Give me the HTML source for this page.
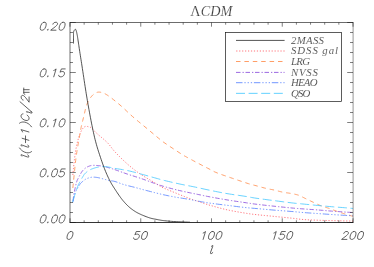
<!DOCTYPE html>
<html><head><meta charset="utf-8"><title>LCDM</title>
<style>html,body{margin:0;padding:0;background:#fff;width:374px;height:267px;overflow:hidden;font-family:"Liberation Sans",sans-serif}</style></head>
<body>
<svg width="374" height="267" viewBox="0 0 374 267" style="position:absolute;left:0;top:0;will-change:transform">
<title>LCDM: l(l+1)C_l/2pi versus l</title><desc>Line chart. x axis l from 0 to 200 (ticks 0, 50, 100, 150, 200); y axis l(l+1)C_l/2pi from 0.00 to 0.20 (ticks 0.00, 0.05, 0.10, 0.15, 0.20). Curves: 2MASS, SDSS gal, LRG, NVSS, HEAO, QSO.</desc>
<rect width="374" height="267" fill="#fff"/>
<clipPath id="c"><rect x="70" y="22.5" width="283" height="200"/></clipPath>
<g clip-path="url(#c)" fill="none" stroke-width="0.82" stroke-linejoin="round">
<path d="M72.83 175.00 L72.94 173.89 L73.09 172.40 L73.26 170.61 L73.45 168.64 L73.66 166.59 L73.86 164.56 L74.06 162.66 L74.25 161.00 L74.43 159.52 L74.60 158.11 L74.78 156.76 L74.95 155.47 L75.13 154.24 L75.31 153.05 L75.48 151.91 L75.66 150.80 L75.84 149.74 L76.01 148.74 L76.19 147.80 L76.37 146.89 L76.55 146.03 L76.72 145.20 L76.90 144.39 L77.08 143.60 L77.26 142.84 L77.44 142.12 L77.61 141.42 L77.79 140.76 L77.97 140.12 L78.15 139.50 L78.32 138.90 L78.50 138.30 L78.68 137.72 L78.85 137.15 L79.03 136.60 L79.20 136.07 L79.38 135.55 L79.55 135.05 L79.73 134.57 L79.90 134.10 L80.08 133.65 L80.25 133.21 L80.43 132.79 L80.60 132.38 L80.78 131.99 L80.95 131.61 L81.13 131.25 L81.30 130.90 L81.47 130.56 L81.65 130.24 L81.82 129.94 L82.00 129.64 L82.17 129.36 L82.35 129.10 L82.52 128.84 L82.70 128.60 L82.88 128.37 L83.06 128.15 L83.24 127.94 L83.42 127.75 L83.60 127.57 L83.79 127.40 L83.97 127.24 L84.15 127.10 L84.33 126.97 L84.51 126.85 L84.69 126.75 L84.87 126.66 L85.05 126.58 L85.23 126.51 L85.42 126.45 L85.60 126.40 L85.78 126.36 L85.97 126.34 L86.15 126.33 L86.33 126.33 L86.52 126.33 L86.71 126.35 L86.90 126.37 L87.10 126.40 L87.30 126.44 L87.50 126.48 L87.70 126.54 L87.91 126.60 L88.12 126.66 L88.34 126.74 L88.56 126.82 L88.80 126.90 L89.02 126.95 L89.21 126.96 L89.40 126.96 L89.60 126.97 L89.84 127.02 L90.14 127.15 L90.52 127.38 L91.00 127.75 L91.58 128.26 L92.24 128.87 L92.97 129.59 L93.76 130.38 L94.62 131.24 L95.53 132.14 L96.49 133.06 L97.50 134.00 L98.60 134.97 L99.81 136.00 L101.10 137.08 L102.44 138.19 L103.78 139.33 L105.09 140.48 L106.35 141.62 L107.50 142.75 L108.52 143.85 L109.43 144.93 L110.27 146.01 L111.08 147.10 L111.92 148.21 L112.82 149.37 L113.83 150.60 L115.00 151.90 L116.34 153.31 L117.81 154.83 L119.38 156.42 L121.02 158.05 L122.70 159.69 L124.40 161.30 L126.07 162.85 L127.70 164.30 L129.30 165.67 L130.90 167.00 L132.50 168.30 L134.10 169.55 L135.70 170.77 L137.30 171.95 L138.90 173.09 L140.50 174.20 L142.12 175.28 L143.77 176.31 L145.44 177.32 L147.10 178.28 L148.73 179.21 L150.30 180.11 L151.80 180.97 L153.20 181.80 L154.46 182.58 L155.58 183.30 L156.61 183.99 L157.60 184.64 L158.59 185.27 L159.62 185.90 L160.74 186.54 L162.00 187.20 L163.40 187.88 L164.90 188.56 L166.47 189.24 L168.10 189.92 L169.76 190.60 L171.43 191.27 L173.08 191.94 L174.70 192.60 L176.30 193.26 L177.90 193.91 L179.50 194.57 L181.10 195.21 L182.70 195.85 L184.30 196.48 L185.90 197.10 L187.50 197.70 L189.12 198.29 L190.77 198.88 L192.44 199.47 L194.10 200.04 L195.73 200.59 L197.30 201.12 L198.80 201.63 L200.20 202.10 L201.42 202.52 L202.46 202.89 L203.38 203.21 L204.27 203.53 L205.20 203.84 L206.24 204.18 L207.49 204.56 L209.00 205.00 L210.81 205.52 L212.85 206.10 L215.08 206.73 L217.43 207.38 L219.85 208.03 L222.28 208.66 L224.69 209.26 L227.00 209.80 L229.30 210.30 L231.66 210.77 L234.06 211.23 L236.44 211.66 L238.76 212.06 L240.99 212.44 L243.08 212.78 L245.00 213.10 L246.66 213.37 L248.08 213.59 L249.33 213.78 L250.50 213.94 L251.67 214.09 L252.92 214.25 L254.34 214.41 L256.00 214.60 L257.92 214.81 L260.01 215.03 L262.24 215.25 L264.57 215.48 L266.95 215.71 L269.34 215.94 L271.71 216.17 L274.00 216.40 L276.29 216.63 L278.64 216.86 L281.02 217.10 L283.38 217.33 L285.69 217.56 L287.91 217.79 L289.99 218.00 L291.90 218.20 L293.59 218.39 L295.08 218.57 L296.42 218.75 L297.68 218.92 L298.91 219.08 L300.17 219.23 L301.51 219.37 L303.00 219.50 L304.63 219.62 L306.33 219.72 L308.09 219.82 L309.90 219.91 L311.73 219.99 L313.57 220.06 L315.40 220.13 L317.20 220.20 L318.93 220.26 L320.60 220.32 L322.24 220.37 L323.89 220.41 L325.61 220.46 L327.42 220.50 L329.37 220.55 L331.50 220.60 L333.99 220.66 L336.87 220.73 L339.98 220.80 L343.14 220.88 L346.20 220.94 L348.97 221.01 L351.29 221.06 L353.00 221.10" stroke="#ff5a62" stroke-dasharray="1.2 1.75"/>
<path d="M72.83 188.00 L72.94 186.92 L73.09 185.47 L73.26 183.75 L73.45 181.84 L73.66 179.83 L73.86 177.79 L74.06 175.82 L74.25 174.00 L74.43 172.26 L74.60 170.51 L74.78 168.75 L74.95 167.00 L75.13 165.28 L75.31 163.62 L75.48 162.02 L75.66 160.50 L75.84 159.07 L76.01 157.71 L76.19 156.41 L76.37 155.17 L76.55 153.96 L76.72 152.79 L76.90 151.64 L77.08 150.50 L77.26 149.39 L77.44 148.32 L77.61 147.29 L77.79 146.28 L77.97 145.29 L78.15 144.30 L78.32 143.31 L78.50 142.30 L78.68 141.28 L78.85 140.26 L79.03 139.23 L79.20 138.21 L79.38 137.20 L79.55 136.19 L79.73 135.19 L79.90 134.20 L80.07 133.24 L80.22 132.33 L80.38 131.43 L80.53 130.54 L80.69 129.63 L80.87 128.68 L81.07 127.68 L81.30 126.60 L81.56 125.45 L81.84 124.23 L82.15 122.96 L82.47 121.65 L82.80 120.32 L83.14 118.97 L83.47 117.63 L83.80 116.30 L84.12 114.95 L84.44 113.55 L84.76 112.12 L85.09 110.70 L85.42 109.30 L85.76 107.95 L86.12 106.68 L86.50 105.50 L86.89 104.42 L87.29 103.42 L87.69 102.48 L88.11 101.59 L88.55 100.75 L89.01 99.95 L89.49 99.17 L90.00 98.40 L90.54 97.64 L91.11 96.89 L91.71 96.17 L92.33 95.48 L92.96 94.83 L93.61 94.25 L94.25 93.73 L94.90 93.30 L95.54 92.94 L96.17 92.65 L96.81 92.41 L97.46 92.24 L98.12 92.13 L98.81 92.09 L99.54 92.11 L100.30 92.20 L101.08 92.34 L101.85 92.51 L102.64 92.75 L103.46 93.05 L104.33 93.43 L105.29 93.92 L106.33 94.52 L107.50 95.25 L108.81 96.14 L110.25 97.18 L111.80 98.34 L113.42 99.60 L115.08 100.92 L116.75 102.28 L118.40 103.65 L120.00 105.00 L121.56 106.36 L123.12 107.78 L124.69 109.23 L126.25 110.71 L127.81 112.19 L129.38 113.66 L130.94 115.10 L132.50 116.50 L134.05 117.84 L135.57 119.13 L137.08 120.39 L138.59 121.64 L140.13 122.89 L141.70 124.18 L143.32 125.51 L145.00 126.90 L146.82 128.42 L148.81 130.08 L150.88 131.82 L152.97 133.56 L155.00 135.26 L156.89 136.84 L158.59 138.24 L160.00 139.40 L161.02 140.24 L161.68 140.80 L162.10 141.15 L162.41 141.40 L162.72 141.64 L163.18 141.95 L163.89 142.44 L165.00 143.20 L166.59 144.28 L168.59 145.61 L170.85 147.12 L173.25 148.71 L175.65 150.29 L177.91 151.77 L179.91 153.07 L181.50 154.10 L182.64 154.83 L183.44 155.33 L184.00 155.66 L184.41 155.89 L184.76 156.08 L185.17 156.29 L185.71 156.57 L186.50 157.00 L187.49 157.55 L188.59 158.15 L189.77 158.79 L191.03 159.47 L192.35 160.18 L193.71 160.91 L195.10 161.66 L196.50 162.40 L197.97 163.18 L199.55 164.01 L201.20 164.87 L202.87 165.74 L204.52 166.60 L206.13 167.43 L207.63 168.20 L209.00 168.90 L210.17 169.51 L211.17 170.04 L212.04 170.52 L212.88 170.97 L213.73 171.41 L214.67 171.86 L215.77 172.35 L217.10 172.90 L218.66 173.51 L220.40 174.15 L222.27 174.82 L224.24 175.51 L226.28 176.21 L228.34 176.92 L230.40 177.62 L232.40 178.30 L234.44 179.00 L236.59 179.73 L238.80 180.47 L240.99 181.21 L243.13 181.92 L245.15 182.59 L246.99 183.19 L248.60 183.70 L249.92 184.11 L250.99 184.42 L251.87 184.66 L252.64 184.86 L253.36 185.03 L254.12 185.22 L254.97 185.43 L256.00 185.70 L257.21 186.03 L258.55 186.40 L259.96 186.79 L261.41 187.19 L262.86 187.58 L264.27 187.96 L265.60 188.30 L266.80 188.60 L267.86 188.84 L268.81 189.04 L269.69 189.20 L270.52 189.34 L271.33 189.48 L272.16 189.63 L273.04 189.80 L274.00 190.00 L275.03 190.24 L276.10 190.51 L277.21 190.80 L278.34 191.10 L279.48 191.40 L280.63 191.69 L281.77 191.96 L282.90 192.20 L284.03 192.41 L285.19 192.60 L286.35 192.77 L287.51 192.92 L288.65 193.08 L289.77 193.24 L290.86 193.41 L291.90 193.60 L292.90 193.80 L293.87 194.00 L294.82 194.21 L295.73 194.43 L296.62 194.65 L297.48 194.88 L298.30 195.13 L299.10 195.40 L299.82 195.67 L300.45 195.94 L301.02 196.22 L301.58 196.51 L302.15 196.83 L302.79 197.18 L303.53 197.56 L304.40 198.00 L305.44 198.51 L306.64 199.08 L307.93 199.71 L309.29 200.36 L310.66 201.02 L311.99 201.66 L313.26 202.26 L314.40 202.80 L315.42 203.28 L316.36 203.73 L317.24 204.15 L318.08 204.54 L318.91 204.92 L319.74 205.29 L320.59 205.64 L321.50 206.00 L322.45 206.34 L323.42 206.66 L324.41 206.97 L325.41 207.27 L326.41 207.56 L327.41 207.86 L328.41 208.17 L329.40 208.50 L330.37 208.84 L331.34 209.20 L332.30 209.56 L333.26 209.93 L334.23 210.30 L335.20 210.67 L336.19 211.04 L337.20 211.40 L338.24 211.76 L339.30 212.12 L340.39 212.49 L341.48 212.85 L342.57 213.21 L343.64 213.55 L344.69 213.88 L345.70 214.20 L346.72 214.51 L347.78 214.82 L348.85 215.13 L349.88 215.42 L350.85 215.70 L351.72 215.94 L352.45 216.14 L353.00 216.30" stroke="#ff8c4c" stroke-dasharray="4.5 3.9"/>
<path d="M73.20 201.00 L73.22 200.65 L73.24 200.21 L73.25 199.69 L73.28 199.09 L73.32 198.42 L73.39 197.68 L73.48 196.87 L73.60 196.00 L73.77 195.00 L73.98 193.84 L74.23 192.57 L74.49 191.26 L74.77 189.94 L75.03 188.67 L75.28 187.51 L75.50 186.50 L75.69 185.65 L75.85 184.90 L76.00 184.23 L76.14 183.62 L76.28 183.06 L76.44 182.52 L76.61 181.97 L76.80 181.40 L77.01 180.83 L77.23 180.30 L77.47 179.79 L77.71 179.28 L77.97 178.77 L78.24 178.25 L78.54 177.69 L78.85 177.10 L79.19 176.45 L79.55 175.74 L79.94 175.00 L80.33 174.25 L80.74 173.50 L81.16 172.78 L81.58 172.11 L82.00 171.50 L82.42 170.95 L82.85 170.44 L83.29 169.96 L83.73 169.51 L84.17 169.10 L84.62 168.71 L85.06 168.34 L85.50 168.00 L85.94 167.69 L86.38 167.41 L86.83 167.16 L87.27 166.93 L87.71 166.73 L88.15 166.54 L88.58 166.37 L89.00 166.20 L89.40 166.05 L89.78 165.91 L90.15 165.79 L90.52 165.68 L90.90 165.59 L91.29 165.51 L91.73 165.45 L92.20 165.40 L92.71 165.36 L93.24 165.34 L93.80 165.34 L94.38 165.34 L94.99 165.36 L95.63 165.40 L96.30 165.44 L97.00 165.50 L97.74 165.57 L98.52 165.64 L99.33 165.73 L100.17 165.83 L101.04 165.94 L101.92 166.07 L102.81 166.22 L103.70 166.40 L104.63 166.61 L105.63 166.86 L106.66 167.14 L107.69 167.43 L108.70 167.73 L109.65 168.01 L110.53 168.27 L111.30 168.50 L111.89 168.67 L112.29 168.79 L112.58 168.87 L112.83 168.95 L113.12 169.05 L113.53 169.19 L114.13 169.40 L115.00 169.70 L116.16 170.11 L117.54 170.60 L119.10 171.16 L120.78 171.77 L122.53 172.40 L124.31 173.03 L126.05 173.63 L127.70 174.20 L129.30 174.73 L130.90 175.24 L132.50 175.74 L134.10 176.24 L135.70 176.74 L137.30 177.25 L138.90 177.77 L140.50 178.30 L142.12 178.86 L143.77 179.45 L145.44 180.06 L147.10 180.67 L148.73 181.27 L150.30 181.85 L151.80 182.40 L153.20 182.90 L154.46 183.35 L155.58 183.75 L156.61 184.12 L157.60 184.47 L158.59 184.81 L159.62 185.15 L160.74 185.51 L162.00 185.90 L163.40 186.32 L164.90 186.75 L166.47 187.20 L168.10 187.66 L169.76 188.11 L171.43 188.56 L173.08 188.99 L174.70 189.40 L176.30 189.79 L177.90 190.17 L179.50 190.54 L181.10 190.91 L182.70 191.26 L184.30 191.61 L185.90 191.96 L187.50 192.30 L189.12 192.64 L190.77 192.99 L192.44 193.33 L194.10 193.67 L195.73 194.00 L197.30 194.31 L198.80 194.62 L200.20 194.90 L201.42 195.15 L202.46 195.37 L203.38 195.57 L204.27 195.76 L205.20 195.96 L206.24 196.17 L207.49 196.41 L209.00 196.70 L210.81 197.04 L212.85 197.41 L215.08 197.82 L217.43 198.24 L219.85 198.68 L222.28 199.10 L224.69 199.51 L227.00 199.90 L229.30 200.27 L231.66 200.64 L234.06 201.00 L236.44 201.35 L238.76 201.69 L240.99 202.01 L243.08 202.32 L245.00 202.60 L246.66 202.85 L248.08 203.07 L249.33 203.26 L250.50 203.44 L251.67 203.62 L252.92 203.80 L254.34 203.99 L256.00 204.20 L257.92 204.43 L260.01 204.68 L262.24 204.93 L264.57 205.19 L266.95 205.45 L269.34 205.70 L271.71 205.96 L274.00 206.20 L276.29 206.44 L278.64 206.69 L281.02 206.93 L283.38 207.17 L285.69 207.40 L287.91 207.62 L289.99 207.82 L291.90 208.00 L293.59 208.15 L295.08 208.29 L296.42 208.40 L297.68 208.50 L298.91 208.59 L300.17 208.69 L301.51 208.79 L303.00 208.90 L304.63 209.02 L306.33 209.14 L308.09 209.26 L309.90 209.38 L311.73 209.51 L313.57 209.63 L315.40 209.76 L317.20 209.90 L318.98 210.04 L320.77 210.19 L322.56 210.34 L324.35 210.50 L326.14 210.66 L327.93 210.81 L329.72 210.96 L331.50 211.10 L333.33 211.24 L335.22 211.38 L337.14 211.52 L339.04 211.65 L340.88 211.78 L342.64 211.90 L344.26 212.01 L345.70 212.10 L346.99 212.18 L348.18 212.25 L349.26 212.31 L350.24 212.36 L351.10 212.41 L351.85 212.44 L352.48 212.47 L353.00 212.50" stroke="#8a4fdc" stroke-dasharray="4.5 2.0 1.3 1.7"/>
<path d="M72.70 202.50 L72.80 202.07 L72.93 201.50 L73.08 200.81 L73.26 200.06 L73.44 199.26 L73.63 198.46 L73.82 197.70 L74.00 197.00 L74.17 196.36 L74.33 195.75 L74.48 195.15 L74.64 194.56 L74.82 193.96 L75.01 193.36 L75.24 192.74 L75.50 192.10 L75.81 191.42 L76.16 190.69 L76.55 189.95 L76.96 189.19 L77.37 188.45 L77.77 187.75 L78.15 187.09 L78.50 186.50 L78.81 185.98 L79.09 185.52 L79.35 185.10 L79.60 184.72 L79.85 184.36 L80.11 184.01 L80.39 183.66 L80.70 183.30 L81.03 182.93 L81.38 182.58 L81.75 182.22 L82.12 181.88 L82.51 181.55 L82.90 181.22 L83.30 180.91 L83.70 180.60 L84.09 180.30 L84.48 180.01 L84.87 179.73 L85.27 179.46 L85.68 179.20 L86.12 178.95 L86.59 178.72 L87.10 178.50 L87.66 178.29 L88.26 178.08 L88.89 177.88 L89.54 177.70 L90.21 177.54 L90.89 177.39 L91.55 177.28 L92.20 177.20 L92.84 177.15 L93.48 177.14 L94.11 177.16 L94.75 177.19 L95.39 177.25 L96.03 177.32 L96.66 177.41 L97.30 177.50 L97.93 177.60 L98.54 177.72 L99.16 177.86 L99.77 178.01 L100.39 178.17 L101.03 178.34 L101.70 178.52 L102.40 178.70 L103.14 178.89 L103.91 179.10 L104.71 179.33 L105.53 179.56 L106.36 179.78 L107.18 180.01 L108.00 180.21 L108.80 180.40 L109.57 180.55 L110.30 180.67 L111.02 180.77 L111.74 180.86 L112.49 180.97 L113.26 181.10 L114.10 181.27 L115.00 181.50 L115.97 181.80 L117.00 182.15 L118.08 182.54 L119.20 182.96 L120.35 183.39 L121.52 183.81 L122.71 184.22 L123.90 184.60 L125.10 184.94 L126.30 185.27 L127.52 185.58 L128.76 185.88 L130.03 186.19 L131.34 186.51 L132.70 186.84 L134.10 187.20 L135.55 187.58 L137.04 187.98 L138.57 188.40 L140.14 188.82 L141.74 189.26 L143.39 189.70 L145.08 190.15 L146.80 190.60 L148.60 191.06 L150.48 191.55 L152.43 192.05 L154.40 192.55 L156.37 193.05 L158.32 193.53 L160.20 193.98 L162.00 194.40 L163.71 194.79 L165.35 195.15 L166.94 195.48 L168.50 195.81 L170.04 196.11 L171.58 196.41 L173.12 196.71 L174.70 197.00 L176.30 197.28 L177.90 197.55 L179.50 197.81 L181.10 198.06 L182.70 198.31 L184.30 198.57 L185.90 198.83 L187.50 199.10 L189.12 199.39 L190.77 199.70 L192.44 200.02 L194.10 200.34 L195.73 200.65 L197.30 200.96 L198.80 201.24 L200.20 201.50 L201.42 201.73 L202.46 201.92 L203.38 202.09 L204.27 202.26 L205.20 202.42 L206.24 202.59 L207.49 202.78 L209.00 203.00 L210.81 203.25 L212.85 203.52 L215.08 203.81 L217.43 204.11 L219.85 204.41 L222.28 204.71 L224.69 205.01 L227.00 205.30 L229.30 205.59 L231.66 205.89 L234.06 206.19 L236.44 206.48 L238.76 206.77 L240.99 207.04 L243.08 207.28 L245.00 207.50 L246.66 207.68 L248.08 207.82 L249.33 207.94 L250.50 208.04 L251.67 208.13 L252.92 208.24 L254.34 208.35 L256.00 208.50 L257.92 208.67 L260.01 208.86 L262.24 209.06 L264.57 209.27 L266.95 209.49 L269.34 209.70 L271.71 209.91 L274.00 210.10 L276.29 210.29 L278.64 210.47 L281.02 210.66 L283.38 210.84 L285.69 211.01 L287.91 211.18 L289.99 211.35 L291.90 211.50 L293.59 211.64 L295.08 211.78 L296.42 211.90 L297.68 212.03 L298.91 212.14 L300.17 212.26 L301.51 212.38 L303.00 212.50 L304.63 212.62 L306.33 212.75 L308.09 212.88 L309.90 213.00 L311.73 213.12 L313.57 213.25 L315.40 213.38 L317.20 213.50 L318.98 213.63 L320.77 213.75 L322.56 213.88 L324.35 214.01 L326.14 214.13 L327.93 214.26 L329.72 214.38 L331.50 214.50 L333.33 214.62 L335.22 214.75 L337.14 214.87 L339.04 214.99 L340.88 215.11 L342.64 215.22 L344.26 215.32 L345.70 215.40 L346.99 215.47 L348.18 215.52 L349.26 215.57 L350.24 215.61 L351.10 215.64 L351.85 215.66 L352.48 215.68 L353.00 215.70" stroke="#5883ff" stroke-dasharray="6.5 1.9 1.3 1.9 1.3 1.9 1.3 1.8"/>
<path d="M72.60 202.00 L72.68 201.73 L72.78 201.36 L72.90 200.92 L73.04 200.44 L73.18 199.93 L73.33 199.42 L73.47 198.94 L73.60 198.50 L73.72 198.12 L73.83 197.79 L73.93 197.47 L74.04 197.16 L74.15 196.82 L74.28 196.45 L74.43 196.02 L74.60 195.50 L74.81 194.88 L75.04 194.17 L75.30 193.39 L75.57 192.57 L75.84 191.74 L76.11 190.94 L76.37 190.18 L76.60 189.50 L76.81 188.88 L77.02 188.30 L77.22 187.74 L77.41 187.22 L77.59 186.72 L77.76 186.25 L77.94 185.81 L78.10 185.40 L78.25 185.03 L78.39 184.71 L78.52 184.43 L78.65 184.17 L78.78 183.92 L78.91 183.67 L79.05 183.40 L79.20 183.10 L79.36 182.78 L79.53 182.46 L79.70 182.13 L79.88 181.80 L80.06 181.45 L80.26 181.09 L80.47 180.71 L80.70 180.30 L80.95 179.85 L81.24 179.37 L81.53 178.85 L81.84 178.33 L82.15 177.80 L82.46 177.30 L82.74 176.82 L83.00 176.40 L83.23 176.03 L83.43 175.69 L83.61 175.39 L83.79 175.10 L83.96 174.83 L84.15 174.56 L84.36 174.28 L84.60 174.00 L84.86 173.71 L85.13 173.42 L85.41 173.13 L85.71 172.84 L86.03 172.56 L86.36 172.27 L86.72 171.99 L87.10 171.70 L87.50 171.41 L87.93 171.11 L88.37 170.82 L88.84 170.52 L89.32 170.23 L89.83 169.94 L90.35 169.66 L90.90 169.40 L91.48 169.14 L92.08 168.89 L92.72 168.65 L93.37 168.41 L94.03 168.19 L94.69 167.98 L95.35 167.78 L96.00 167.60 L96.64 167.44 L97.28 167.29 L97.91 167.16 L98.55 167.04 L99.19 166.93 L99.83 166.84 L100.46 166.76 L101.10 166.70 L101.74 166.65 L102.38 166.62 L103.01 166.59 L103.65 166.59 L104.29 166.59 L104.92 166.62 L105.56 166.65 L106.20 166.70 L106.85 166.77 L107.51 166.86 L108.17 166.98 L108.84 167.10 L109.49 167.23 L110.12 167.36 L110.73 167.49 L111.30 167.60 L111.77 167.70 L112.11 167.77 L112.39 167.85 L112.67 167.92 L113.01 168.00 L113.47 168.10 L114.12 168.23 L115.00 168.40 L116.16 168.60 L117.54 168.83 L119.10 169.07 L120.78 169.34 L122.53 169.63 L124.31 169.94 L126.05 170.26 L127.70 170.60 L129.30 170.96 L130.90 171.34 L132.50 171.75 L134.10 172.17 L135.70 172.60 L137.30 173.04 L138.90 173.47 L140.50 173.90 L142.10 174.33 L143.71 174.77 L145.33 175.22 L146.94 175.66 L148.54 176.11 L150.13 176.55 L151.68 176.98 L153.20 177.40 L154.64 177.80 L156.00 178.19 L157.31 178.56 L158.61 178.93 L159.94 179.30 L161.34 179.69 L162.84 180.08 L164.50 180.50 L166.35 180.95 L168.37 181.43 L170.51 181.93 L172.71 182.44 L174.93 182.94 L177.10 183.43 L179.18 183.88 L181.10 184.30 L182.86 184.67 L184.49 185.00 L186.04 185.30 L187.54 185.58 L189.03 185.86 L190.54 186.15 L192.12 186.46 L193.80 186.80 L195.56 187.17 L197.36 187.56 L199.19 187.97 L201.07 188.39 L202.99 188.81 L204.94 189.24 L206.95 189.67 L209.00 190.10 L211.12 190.53 L213.30 190.98 L215.54 191.43 L217.82 191.89 L220.13 192.34 L222.43 192.78 L224.73 193.20 L227.00 193.60 L229.30 193.98 L231.66 194.35 L234.06 194.71 L236.44 195.05 L238.76 195.38 L240.99 195.70 L243.08 196.01 L245.00 196.30 L246.66 196.57 L248.08 196.82 L249.33 197.05 L250.50 197.27 L251.67 197.49 L252.92 197.71 L254.34 197.94 L256.00 198.20 L257.92 198.48 L260.01 198.77 L262.24 199.07 L264.57 199.37 L266.95 199.69 L269.34 200.00 L271.71 200.30 L274.00 200.60 L276.29 200.90 L278.64 201.21 L281.02 201.52 L283.38 201.83 L285.69 202.13 L287.91 202.41 L289.99 202.67 L291.90 202.90 L293.59 203.09 L295.08 203.25 L296.42 203.39 L297.68 203.51 L298.91 203.62 L300.17 203.73 L301.51 203.86 L303.00 204.00 L304.63 204.16 L306.33 204.33 L308.09 204.51 L309.90 204.69 L311.73 204.87 L313.57 205.05 L315.40 205.23 L317.20 205.40 L318.98 205.57 L320.77 205.74 L322.56 205.90 L324.35 206.07 L326.14 206.23 L327.93 206.39 L329.72 206.55 L331.50 206.70 L333.33 206.85 L335.22 207.00 L337.14 207.14 L339.04 207.29 L340.88 207.43 L342.64 207.56 L344.26 207.68 L345.70 207.80 L346.99 207.91 L348.18 208.02 L349.26 208.12 L350.24 208.22 L351.10 208.31 L351.85 208.38 L352.48 208.45 L353.00 208.50" stroke="#48c9ff" stroke-dasharray="9 3.6"/>
<path d="M73.50 43.50 L73.50 42.90 L73.50 42.07 L73.50 41.08 L73.49 40.00 L73.49 38.89 L73.49 37.80 L73.50 36.82 L73.50 36.00 L73.50 35.32 L73.50 34.70 L73.50 34.14 L73.51 33.64 L73.51 33.18 L73.53 32.76 L73.56 32.37 L73.60 32.00 L73.66 31.67 L73.72 31.40 L73.80 31.16 L73.89 30.96 L73.98 30.79 L74.08 30.62 L74.19 30.46 L74.30 30.30 L74.42 30.12 L74.55 29.94 L74.69 29.76 L74.84 29.59 L74.98 29.45 L75.13 29.34 L75.27 29.29 L75.40 29.30 L75.52 29.37 L75.64 29.48 L75.75 29.64 L75.86 29.84 L75.97 30.08 L76.08 30.35 L76.19 30.66 L76.30 31.00 L76.41 31.38 L76.53 31.81 L76.64 32.29 L76.76 32.79 L76.87 33.33 L76.98 33.88 L77.09 34.44 L77.20 35.00 L77.30 35.54 L77.39 36.06 L77.48 36.58 L77.56 37.12 L77.65 37.71 L77.75 38.38 L77.87 39.13 L78.00 40.00 L78.15 40.97 L78.30 42.01 L78.47 43.12 L78.64 44.31 L78.83 45.59 L79.04 46.96 L79.26 48.43 L79.50 50.00 L79.76 51.67 L80.03 53.41 L80.32 55.25 L80.62 57.19 L80.95 59.22 L81.28 61.37 L81.63 63.62 L82.00 66.00 L82.39 68.57 L82.82 71.38 L83.26 74.33 L83.72 77.38 L84.18 80.43 L84.64 83.44 L85.08 86.32 L85.50 89.00 L85.89 91.47 L86.26 93.78 L86.62 95.98 L86.97 98.12 L87.32 100.25 L87.69 102.41 L88.08 104.64 L88.50 107.00 L88.96 109.52 L89.44 112.18 L89.95 114.92 L90.47 117.69 L90.99 120.43 L91.51 123.10 L92.02 125.64 L92.50 128.00 L92.96 130.18 L93.40 132.22 L93.83 134.15 L94.25 136.00 L94.67 137.79 L95.10 139.53 L95.54 141.26 L96.00 143.00 L96.47 144.71 L96.94 146.37 L97.42 147.98 L97.91 149.56 L98.40 151.14 L98.92 152.73 L99.45 154.34 L100.00 156.00 L100.58 157.72 L101.18 159.50 L101.80 161.31 L102.44 163.12 L103.08 164.93 L103.73 166.69 L104.37 168.39 L105.00 170.00 L105.62 171.54 L106.25 173.02 L106.88 174.46 L107.50 175.86 L108.12 177.20 L108.75 178.51 L109.38 179.77 L110.00 181.00 L110.62 182.16 L111.22 183.24 L111.81 184.27 L112.41 185.26 L113.02 186.23 L113.65 187.22 L114.31 188.23 L115.00 189.30 L115.73 190.43 L116.50 191.61 L117.30 192.81 L118.12 194.03 L118.95 195.23 L119.77 196.41 L120.60 197.54 L121.40 198.60 L122.19 199.61 L122.98 200.58 L123.77 201.51 L124.55 202.41 L125.33 203.28 L126.12 204.12 L126.91 204.92 L127.70 205.70 L128.50 206.44 L129.29 207.15 L130.09 207.83 L130.89 208.47 L131.70 209.09 L132.50 209.68 L133.30 210.25 L134.10 210.80 L134.88 211.31 L135.64 211.79 L136.39 212.23 L137.14 212.65 L137.92 213.06 L138.72 213.46 L139.58 213.87 L140.50 214.30 L141.51 214.75 L142.60 215.22 L143.76 215.70 L144.94 216.18 L146.12 216.63 L147.28 217.07 L148.38 217.46 L149.40 217.80 L150.33 218.08 L151.19 218.32 L152.00 218.52 L152.79 218.69 L153.56 218.84 L154.34 218.99 L155.15 219.14 L156.00 219.30 L156.87 219.47 L157.72 219.65 L158.57 219.82 L159.44 219.98 L160.35 220.14 L161.32 220.30 L162.36 220.45 L163.50 220.60 L164.72 220.74 L166.01 220.88 L167.37 221.01 L168.78 221.14 L170.26 221.27 L171.79 221.39 L173.37 221.50 L175.00 221.60 L176.81 221.70 L178.86 221.79 L181.03 221.88 L183.22 221.96 L185.32 222.04 L187.22 222.10 L188.82 222.16 L190.00 222.20" stroke="#1a1a1a" stroke-width="0.75"/>
</g>
<path d="M70.00 222.5 v-4.2 M70.00 22.5 v4.2 M84.15 222.5 v-2.2 M84.15 22.5 v2.2 M98.30 222.5 v-2.2 M98.30 22.5 v2.2 M112.45 222.5 v-2.2 M112.45 22.5 v2.2 M126.60 222.5 v-2.2 M126.60 22.5 v2.2 M140.75 222.5 v-4.2 M140.75 22.5 v4.2 M154.90 222.5 v-2.2 M154.90 22.5 v2.2 M169.05 222.5 v-2.2 M169.05 22.5 v2.2 M183.20 222.5 v-2.2 M183.20 22.5 v2.2 M197.35 222.5 v-2.2 M197.35 22.5 v2.2 M211.50 222.5 v-4.2 M211.50 22.5 v4.2 M225.65 222.5 v-2.2 M225.65 22.5 v2.2 M239.80 222.5 v-2.2 M239.80 22.5 v2.2 M253.95 222.5 v-2.2 M253.95 22.5 v2.2 M268.10 222.5 v-2.2 M268.10 22.5 v2.2 M282.25 222.5 v-4.2 M282.25 22.5 v4.2 M296.40 222.5 v-2.2 M296.40 22.5 v2.2 M310.55 222.5 v-2.2 M310.55 22.5 v2.2 M324.70 222.5 v-2.2 M324.70 22.5 v2.2 M338.85 222.5 v-2.2 M338.85 22.5 v2.2 M353.00 222.5 v-4.2 M353.00 22.5 v4.2 M70 222.50 h5.8 M353 222.50 h-5.8 M70 212.50 h3 M353 212.50 h-3 M70 202.50 h3 M353 202.50 h-3 M70 192.50 h3 M353 192.50 h-3 M70 182.50 h3 M353 182.50 h-3 M70 172.50 h5.8 M353 172.50 h-5.8 M70 162.50 h3 M353 162.50 h-3 M70 152.50 h3 M353 152.50 h-3 M70 142.50 h3 M353 142.50 h-3 M70 132.50 h3 M353 132.50 h-3 M70 122.50 h5.8 M353 122.50 h-5.8 M70 112.50 h3 M353 112.50 h-3 M70 102.50 h3 M353 102.50 h-3 M70 92.50 h3 M353 92.50 h-3 M70 82.50 h3 M353 82.50 h-3 M70 72.50 h5.8 M353 72.50 h-5.8 M70 62.50 h3 M353 62.50 h-3 M70 52.50 h3 M353 52.50 h-3 M70 42.50 h3 M353 42.50 h-3 M70 32.50 h3 M353 32.50 h-3 M70 22.50 h5.8 M353 22.50 h-5.8" fill="none" stroke="#111" stroke-width="0.54"/>
<path d="M69.6 22.5 H353.4" fill="none" stroke="#111" stroke-width="0.62"/>
<path d="M69.6 222.5 H353.4" fill="none" stroke="#111" stroke-width="0.85"/>
<path d="M70 22.5 V222.5" fill="none" stroke="#111" stroke-width="0.6"/>
<path d="M353.1 22.5 V222.5" fill="none" stroke="#111" stroke-width="0.44"/>
<rect x="225.5" y="32.5" width="116" height="68.9" fill="#fff" stroke="#111" stroke-width="0.68"/>
<path d="M236 40.4 H284.6" fill="none" stroke="#1a1a1a" stroke-width="0.75"/>
<text x="291" y="43.8" font-family="Liberation Serif, serif" font-style="italic" font-size="10.8" fill="#404040" stroke="#fff" stroke-width="0.12" textLength="33" lengthAdjust="spacing">2MASS</text>
<path d="M236.2 51 H284.6" fill="none" stroke="#ff5a62" stroke-width="0.85" stroke-dasharray="1.2 1.75"/>
<text x="291" y="54.4" font-family="Liberation Serif, serif" font-style="italic" font-size="10.8" fill="#404040" stroke="#fff" stroke-width="0.12" textLength="47" lengthAdjust="spacing">SDSS gal</text>
<path d="M236 61.5 H284.6" fill="none" stroke="#ff8c4c" stroke-width="0.85" stroke-dasharray="4.5 3.9"/>
<text x="291" y="64.9" font-family="Liberation Serif, serif" font-style="italic" font-size="10.8" fill="#404040" stroke="#fff" stroke-width="0.12" textLength="19" lengthAdjust="spacing">LRG</text>
<path d="M236 72.4 H284.6" fill="none" stroke="#8a4fdc" stroke-width="0.85" stroke-dasharray="4.5 2.0 1.3 1.7"/>
<text x="291" y="75.8" font-family="Liberation Serif, serif" font-style="italic" font-size="10.8" fill="#404040" stroke="#fff" stroke-width="0.12" textLength="26.8" lengthAdjust="spacing">NVSS</text>
<path d="M236 82.7 H284.6" fill="none" stroke="#5883ff" stroke-width="0.85" stroke-dasharray="6.5 1.9 1.3 1.9 1.3 1.9 1.3 1.8"/>
<text x="291" y="86.1" font-family="Liberation Serif, serif" font-style="italic" font-size="10.8" fill="#404040" stroke="#fff" stroke-width="0.12" textLength="26.5" lengthAdjust="spacing">HEAO</text>
<path d="M236 93.35 H284.6" fill="none" stroke="#48c9ff" stroke-width="0.85" stroke-dasharray="9 3.6"/>
<text x="291" y="96.75" font-family="Liberation Serif, serif" font-style="italic" font-size="10.8" fill="#404040" stroke="#fff" stroke-width="0.12" textLength="19.3" lengthAdjust="spacing">QSO</text>
<text x="190.3" y="15.6" font-family="Liberation Serif, serif" font-size="14.2" fill="#404040" stroke="#fff" stroke-width="0.15" textLength="42" lengthAdjust="spacing">&#923;<tspan font-style="italic">CDM</tspan></text>
<path aria-label="0" d="M70.80 231.53 L69.56 231.90 L68.46 233.03 L67.51 234.90 L67.17 236.03 L66.99 237.90 L67.40 239.03 L68.42 239.40 L69.18 239.40 L70.43 239.03 L71.52 237.90 L72.47 236.03 L72.81 234.90 L73.00 233.03 L72.58 231.90 L71.56 231.53 L70.80 231.53" fill="none" stroke="#3a3a3a" stroke-width="0.8" stroke-linecap="round" stroke-linejoin="round"/>
<path aria-label="50" d="M140.04 231.53 L136.26 231.53 L134.86 234.90 L135.35 234.53 L136.60 234.15 L137.74 234.15 L138.76 234.53 L139.29 235.28 L139.32 236.40 L139.10 237.15 L138.38 238.28 L137.40 239.03 L136.15 239.40 L135.01 239.40 L133.99 239.03 L133.73 238.65 L133.58 237.90 M145.33 231.53 L144.09 231.90 L142.99 233.03 L142.04 234.90 L141.70 236.03 L141.52 237.90 L141.93 239.03 L142.95 239.40 L143.71 239.40 L144.96 239.03 L146.05 237.90 L147.00 236.03 L147.34 234.90 L147.53 233.03 L147.11 231.90 L146.09 231.53 L145.33 231.53" fill="none" stroke="#3a3a3a" stroke-width="0.8" stroke-linecap="round" stroke-linejoin="round"/>
<path aria-label="100" d="M203.16 233.03 L204.03 232.65 L205.50 231.53 L203.12 239.40 M212.30 231.53 L211.06 231.90 L209.96 233.03 L209.01 234.90 L208.67 236.03 L208.49 237.90 L208.90 239.03 L209.92 239.40 L210.68 239.40 L211.93 239.03 L213.02 237.90 L213.97 236.03 L214.31 234.90 L214.50 233.03 L214.08 231.90 L213.06 231.53 L212.30 231.53 M219.86 231.53 L218.62 231.90 L217.52 233.03 L216.57 234.90 L216.23 236.03 L216.05 237.90 L216.46 239.03 L217.48 239.40 L218.24 239.40 L219.49 239.03 L220.58 237.90 L221.53 236.03 L221.87 234.90 L222.06 233.03 L221.64 231.90 L220.62 231.53 L219.86 231.53" fill="none" stroke="#3a3a3a" stroke-width="0.8" stroke-linecap="round" stroke-linejoin="round"/>
<path aria-label="150" d="M273.91 233.03 L274.78 232.65 L276.25 231.53 L273.87 239.40 M285.32 231.53 L281.54 231.53 L280.14 234.90 L280.63 234.53 L281.88 234.15 L283.02 234.15 L284.04 234.53 L284.57 235.28 L284.60 236.40 L284.38 237.15 L283.66 238.28 L282.68 239.03 L281.43 239.40 L280.29 239.40 L279.27 239.03 L279.01 238.65 L278.86 237.90 M290.61 231.53 L289.37 231.90 L288.27 233.03 L287.32 234.90 L286.98 236.03 L286.80 237.90 L287.21 239.03 L288.23 239.40 L288.99 239.40 L290.24 239.03 L291.33 237.90 L292.28 236.03 L292.62 234.90 L292.81 233.03 L292.39 231.90 L291.37 231.53 L290.61 231.53" fill="none" stroke="#3a3a3a" stroke-width="0.8" stroke-linecap="round" stroke-linejoin="round"/>
<path aria-label="200" d="M343.79 233.40 L343.90 233.03 L344.50 232.28 L345.00 231.90 L345.87 231.53 L347.38 231.53 L348.02 231.90 L348.28 232.28 L348.44 233.03 L348.21 233.78 L347.60 234.53 L346.51 235.65 L341.59 239.40 L346.89 239.40 M353.80 231.53 L352.56 231.90 L351.46 233.03 L350.51 234.90 L350.17 236.03 L349.99 237.90 L350.40 239.03 L351.42 239.40 L352.18 239.40 L353.43 239.03 L354.52 237.90 L355.47 236.03 L355.81 234.90 L356.00 233.03 L355.58 231.90 L354.56 231.53 L353.80 231.53 M361.36 231.53 L360.12 231.90 L359.02 233.03 L358.07 234.90 L357.73 236.03 L357.55 237.90 L357.96 239.03 L358.98 239.40 L359.74 239.40 L360.99 239.03 L362.08 237.90 L363.03 236.03 L363.37 234.90 L363.56 233.03 L363.14 231.90 L362.12 231.53 L361.36 231.53" fill="none" stroke="#3a3a3a" stroke-width="0.8" stroke-linecap="round" stroke-linejoin="round"/>
<path aria-label="0.00" d="M44.02 215.03 L42.78 215.40 L41.68 216.53 L40.73 218.40 L40.39 219.53 L40.21 221.40 L40.62 222.53 L41.64 222.90 L42.40 222.90 L43.65 222.53 L44.74 221.40 L45.69 219.53 L46.03 218.40 L46.22 216.53 L45.80 215.40 L44.78 215.03 L44.02 215.03 M47.92 222.15 L47.43 222.53 L47.69 222.90 L48.18 222.53 L47.92 222.15 M55.36 215.03 L54.12 215.40 L53.02 216.53 L52.07 218.40 L51.73 219.53 L51.55 221.40 L51.96 222.53 L52.98 222.90 L53.74 222.90 L54.99 222.53 L56.08 221.40 L57.03 219.53 L57.37 218.40 L57.56 216.53 L57.14 215.40 L56.12 215.03 L55.36 215.03 M62.92 215.03 L61.68 215.40 L60.58 216.53 L59.63 218.40 L59.29 219.53 L59.11 221.40 L59.52 222.53 L60.54 222.90 L61.30 222.90 L62.55 222.53 L63.64 221.40 L64.59 219.53 L64.93 218.40 L65.12 216.53 L64.70 215.40 L63.68 215.03 L62.92 215.03" fill="none" stroke="#3a3a3a" stroke-width="0.8" stroke-linecap="round" stroke-linejoin="round"/>
<path aria-label="0.05" d="M44.02 168.93 L42.78 169.30 L41.68 170.43 L40.73 172.30 L40.39 173.43 L40.21 175.30 L40.62 176.43 L41.64 176.80 L42.40 176.80 L43.65 176.43 L44.74 175.30 L45.69 173.43 L46.03 172.30 L46.22 170.43 L45.80 169.30 L44.78 168.93 L44.02 168.93 M47.92 176.05 L47.43 176.43 L47.69 176.80 L48.18 176.43 L47.92 176.05 M55.36 168.93 L54.12 169.30 L53.02 170.43 L52.07 172.30 L51.73 173.43 L51.55 175.30 L51.96 176.43 L52.98 176.80 L53.74 176.80 L54.99 176.43 L56.08 175.30 L57.03 173.43 L57.37 172.30 L57.56 170.43 L57.14 169.30 L56.12 168.93 L55.36 168.93 M65.19 168.93 L61.41 168.93 L60.01 172.30 L60.50 171.93 L61.75 171.55 L62.89 171.55 L63.91 171.93 L64.44 172.68 L64.47 173.80 L64.25 174.55 L63.53 175.68 L62.55 176.43 L61.30 176.80 L60.16 176.80 L59.14 176.43 L58.88 176.05 L58.73 175.30" fill="none" stroke="#3a3a3a" stroke-width="0.8" stroke-linecap="round" stroke-linejoin="round"/>
<path aria-label="0.10" d="M44.02 118.92 L42.78 119.30 L41.68 120.42 L40.73 122.30 L40.39 123.42 L40.21 125.30 L40.62 126.42 L41.64 126.80 L42.40 126.80 L43.65 126.42 L44.74 125.30 L45.69 123.42 L46.03 122.30 L46.22 120.42 L45.80 119.30 L44.78 118.92 L44.02 118.92 M47.92 126.05 L47.43 126.42 L47.69 126.80 L48.18 126.42 L47.92 126.05 M53.78 120.42 L54.65 120.05 L56.12 118.92 L53.74 126.80 M62.92 118.92 L61.68 119.30 L60.58 120.42 L59.63 122.30 L59.29 123.42 L59.11 125.30 L59.52 126.42 L60.54 126.80 L61.30 126.80 L62.55 126.42 L63.64 125.30 L64.59 123.42 L64.93 122.30 L65.12 120.42 L64.70 119.30 L63.68 118.92 L62.92 118.92" fill="none" stroke="#3a3a3a" stroke-width="0.8" stroke-linecap="round" stroke-linejoin="round"/>
<path aria-label="0.15" d="M44.02 68.92 L42.78 69.30 L41.68 70.42 L40.73 72.30 L40.39 73.42 L40.21 75.30 L40.62 76.42 L41.64 76.80 L42.40 76.80 L43.65 76.42 L44.74 75.30 L45.69 73.42 L46.03 72.30 L46.22 70.42 L45.80 69.30 L44.78 68.92 L44.02 68.92 M47.92 76.05 L47.43 76.42 L47.69 76.80 L48.18 76.42 L47.92 76.05 M53.78 70.42 L54.65 70.05 L56.12 68.92 L53.74 76.80 M65.19 68.92 L61.41 68.92 L60.01 72.30 L60.50 71.92 L61.75 71.55 L62.89 71.55 L63.91 71.92 L64.44 72.67 L64.47 73.80 L64.25 74.55 L63.53 75.67 L62.55 76.42 L61.30 76.80 L60.16 76.80 L59.14 76.42 L58.88 76.05 L58.73 75.30" fill="none" stroke="#3a3a3a" stroke-width="0.8" stroke-linecap="round" stroke-linejoin="round"/>
<path aria-label="0.20" d="M44.02 22.32 L42.78 22.70 L41.68 23.82 L40.73 25.70 L40.39 26.82 L40.21 28.70 L40.62 29.82 L41.64 30.20 L42.40 30.20 L43.65 29.82 L44.74 28.70 L45.69 26.82 L46.03 25.70 L46.22 23.82 L45.80 22.70 L44.78 22.32 L44.02 22.32 M47.92 29.45 L47.43 29.82 L47.69 30.20 L48.18 29.82 L47.92 29.45 M52.91 24.20 L53.02 23.82 L53.62 23.07 L54.12 22.70 L54.99 22.32 L56.50 22.32 L57.14 22.70 L57.40 23.07 L57.56 23.82 L57.33 24.57 L56.72 25.32 L55.63 26.45 L50.71 30.20 L56.01 30.20 M62.92 22.32 L61.68 22.70 L60.58 23.82 L59.63 25.70 L59.29 26.82 L59.11 28.70 L59.52 29.82 L60.54 30.20 L61.30 30.20 L62.55 29.82 L63.64 28.70 L64.59 26.82 L64.93 25.70 L65.12 23.82 L64.70 22.70 L63.68 22.32 L62.92 22.32" fill="none" stroke="#3a3a3a" stroke-width="0.8" stroke-linecap="round" stroke-linejoin="round"/>
<g aria-label="l"><path d="M211.47 246.28 L212.38 245.59 L212.98 245.67 L212.58 246.75 L210.63 252.16 L210.42 253.12 L210.73 253.62 L211.62 253.51 L212.77 252.54" fill="none" stroke="#3a3a3a" stroke-width="0.85" stroke-linecap="round" stroke-linejoin="round"/></g>
<g aria-label="l(l+1)Cl/2pi">
<path d="M21.70 156.12 L21.02 155.24 L21.10 154.65 L22.15 155.05 L27.40 156.94 L28.34 157.15 L28.82 156.84 L28.71 155.97 L27.77 154.86" fill="none" stroke="#3a3a3a" stroke-width="0.8" stroke-linecap="round" stroke-linejoin="round"/>
<path d="M19.52 147.96 L20.27 148.94 L21.40 150.04 L22.90 151.25 L24.77 152.20 L26.27 152.65 L28.15 152.84 L29.65 152.54 L30.77 152.12 L31.52 151.59" fill="none" stroke="#3a3a3a" stroke-width="0.8" stroke-linecap="round" stroke-linejoin="round"/>
<path d="M21.70 146.22 L21.02 145.34 L21.10 144.75 L22.15 145.15 L27.40 147.04 L28.34 147.25 L28.82 146.94 L28.71 146.07 L27.77 144.96" fill="none" stroke="#3a3a3a" stroke-width="0.8" stroke-linecap="round" stroke-linejoin="round"/>
<path d="M22.15 138.28 L28.90 140.32 M25.52 142.70 L25.52 135.90" fill="none" stroke="#3a3a3a" stroke-width="0.8" stroke-linecap="round" stroke-linejoin="round"/>
<path d="M22.52 131.95 L22.15 131.08 L21.02 129.61 L28.90 131.99" fill="none" stroke="#3a3a3a" stroke-width="0.8" stroke-linecap="round" stroke-linejoin="round"/>
<path d="M19.52 123.21 L20.27 122.68 L21.40 122.26 L22.90 121.96 L24.77 122.15 L26.27 122.60 L28.15 123.55 L29.65 124.76 L30.77 125.86 L31.52 126.84" fill="none" stroke="#3a3a3a" stroke-width="0.8" stroke-linecap="round" stroke-linejoin="round"/>
<path d="M23.00 113.91 L22.25 114.06 L21.50 114.59 L21.12 115.23 L21.12 116.75 L21.50 117.62 L22.25 118.60 L23.00 119.20 L24.12 119.92 L26.00 120.49 L27.12 120.45 L27.88 120.30 L28.62 119.77 L29.00 119.13 L29.00 117.62 L28.62 116.75 L27.88 115.76 L27.12 115.16" fill="none" stroke="#3a3a3a" stroke-width="0.8" stroke-linecap="round" stroke-linejoin="round"/>
<path d="M27.00 112.45 L26.54 111.85 L26.60 111.45 L27.31 111.72 L30.88 113.01 L31.52 113.15 L31.85 112.94 L31.77 112.35 L31.13 111.59" fill="none" stroke="#3a3a3a" stroke-width="0.8" stroke-linecap="round" stroke-linejoin="round"/>
<path d="M20.02 101.78 L32.02 112.22" fill="none" stroke="#3a3a3a" stroke-width="0.8" stroke-linecap="round" stroke-linejoin="round"/>
<path d="M23.10 100.03 L22.72 99.92 L21.97 99.31 L21.60 98.82 L21.22 97.95 L21.22 96.44 L21.60 95.79 L21.97 95.53 L22.72 95.38 L23.47 95.61 L24.22 96.21 L25.35 97.31 L29.10 102.22 L29.10 96.93" fill="none" stroke="#3a3a3a" stroke-width="0.8" stroke-linecap="round" stroke-linejoin="round"/>
<path d="M24.89 94.41 L24.14 94.02 L23.76 93.45 L23.76 87.99 M23.76 92.33 L29.20 92.33 M23.76 89.69 L29.20 89.69" fill="none" stroke="#3a3a3a" stroke-width="0.8" stroke-linecap="round" stroke-linejoin="round"/>
</g>
</svg>
</body></html>
